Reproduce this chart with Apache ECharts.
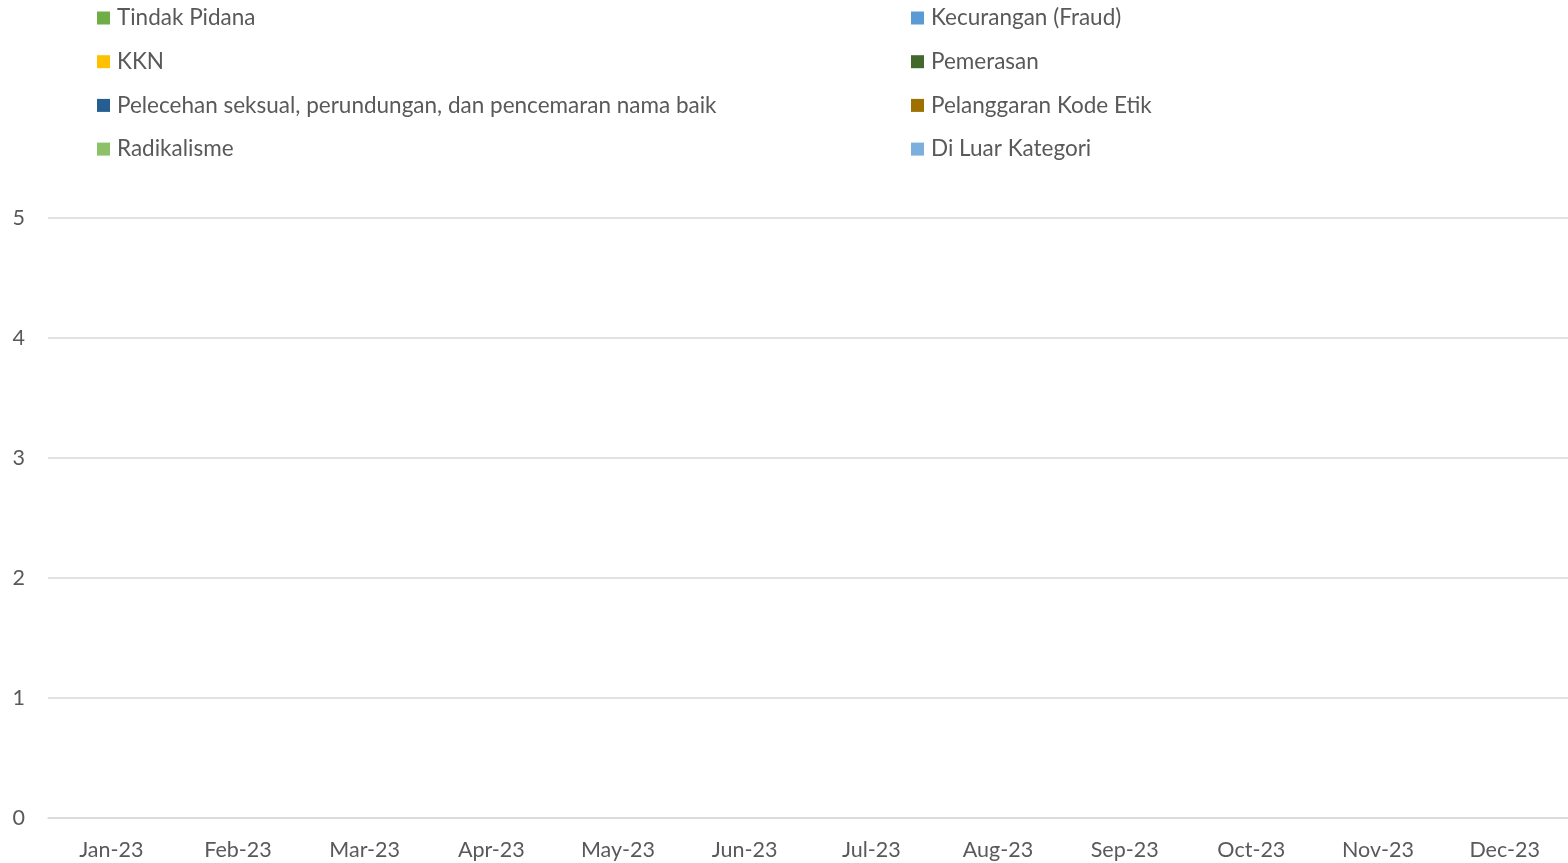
<!DOCTYPE html>
<html>
<head>
<meta charset="utf-8">
<script src="https://cdn.jsdelivr.net/npm/echarts@6/dist/echarts.min.js"></script>
<style>html,body{margin:0;padding:0;background:#fff}#c{width:1568px;height:863px}</style>
</head>
<body>
<div id="c"></div>
<script>
const months = ['Jan-23','Feb-23','Mar-23','Apr-23','May-23','Jun-23','Jul-23','Aug-23','Sep-23','Oct-23','Nov-23','Dec-23'];
const seriesNames = ['Tindak Pidana','Kecurangan (Fraud)','KKN','Pemerasan','Pelecehan seksual, perundungan, dan pencemaran nama baik','Pelanggaran Kode Etik','Radikalisme','Di Luar Kategori'];
const tindakPidana = [0,0,0,0,0,0,0,0,0,0,0,0];
const kecurangan = [0,0,0,0,0,0,0,0,0,0,0,0];
const kkn = [0,0,0,0,0,0,0,0,0,0,0,0];
const pemerasan = [0,0,0,0,0,0,0,0,0,0,0,0];
const pelecehan = [0,0,0,0,0,0,0,0,0,0,0,0];
const pelanggaranKodeEtik = [0,0,0,0,0,0,0,0,0,0,0,0];
const radikalisme = [0,0,0,0,0,0,0,0,0,0,0,0];
const diLuarKategori = [0,0,0,0,0,0,0,0,0,0,0,0];
const yTicks = [0,1,2,3,4,5];

const values = [tindakPidana,kecurangan,kkn,pemerasan,pelecehan,pelanggaranKodeEtik,radikalisme,diLuarKategori];
const colors = ['#70ad47','#5b9bd5','#ffc000','#43682b','#255e91','#9e7000','#8cc168','#7cafdd'];
const FONT = 'Lato';

const chart = echarts.init(document.getElementById('c'));
const legendCommon = {
  orient: 'vertical', top: 1, itemWidth: 13, itemHeight: 13, itemGap: 19.7,
  icon: 'rect',
  textStyle: {fontFamily: FONT, fontSize: 22.5, color: '#595959', lineHeight: 24, padding: [0,0,0,2]}
};
chart.setOption({
  animation: false,
  color: colors,
  legend: [
    Object.assign({left: 92, data: [seriesNames[0], seriesNames[2], seriesNames[4], seriesNames[6]]}, legendCommon),
    Object.assign({left: 906, data: [seriesNames[1], seriesNames[3], seriesNames[5], seriesNames[7]]}, legendCommon)
  ],
  grid: {left: 48, right: -4, top: 218, bottom: 45, containLabel: false},
  xAxis: {
    type: 'category', data: months,
    axisLine: {show: true, lineStyle: {color: '#d9d9d9', width: 1.5}},
    axisTick: {show: false},
    axisLabel: {fontFamily: FONT, fontSize: 21.5, color: '#595959', margin: 21}
  },
  yAxis: {
    type: 'value', min: yTicks[0], max: yTicks[yTicks.length-1], interval: 1,
    axisLine: {show: false}, axisTick: {show: false},
    axisLabel: {fontFamily: FONT, fontSize: 21.5, color: '#595959', margin: 23},
    splitLine: {lineStyle: {color: '#d9d9d9', width: 1.5}}
  },
  series: seriesNames.map((n, i) => ({
    name: n, type: 'bar', stack: 'total', data: values[i], barWidth: '55%'
  }))
});
</script>
</body>
</html>
